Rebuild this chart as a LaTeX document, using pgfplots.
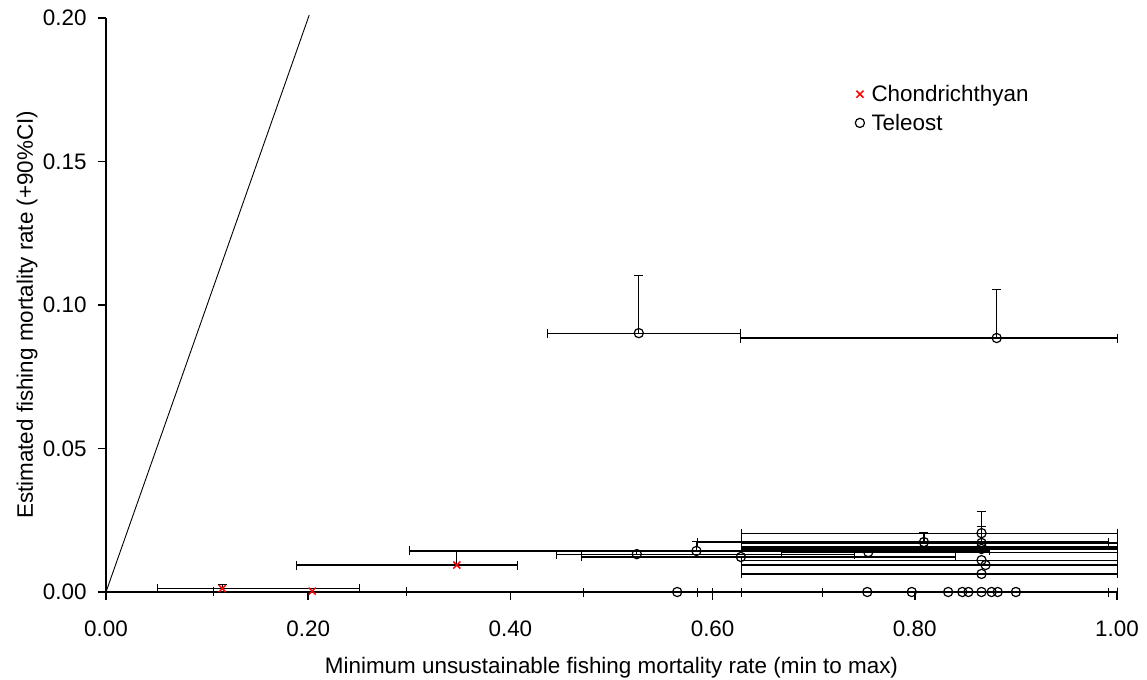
\documentclass[border=0pt]{standalone}
\usepackage{fontspec}
\setmainfont{Liberation Sans}
\usepackage{pgfplots}
\usepackage{pgfplotstable}
\pgfplotsset{compat=1.18}

% x, y, x error minus, x error plus, y error plus
\pgfplotstableread{
x      y       em     ep     yp
0.115  0.0012  0.064  0.135  0.0016
0.204  0.0003  0.098  0.093  0.0000
0.347  0.0094  0.159  0.060  0.0052
}\chondro

\pgfplotstableread{
x      y       em     ep     yp
0.527  0.0902  0.091  0.100  0.0203
0.881  0.0885  0.254  0.119  0.0171
0.525  0.0132  0.080  0.215  0.0014
0.584  0.0143  0.284  0.290  0.0035
0.809  0.0174  0.224  0.182  0.0035
0.866  0.0205  0.238  0.134  0.0075
0.866  0.0171  0.238  0.134  0.0059
}\teleostci

\pgfplotstableread{
x      y       em     ep
0.628  0.0122  0.158  0.212
0.754  0.0139  0.086  0.246
0.866  0.0157  0.238  0.134
0.866  0.0150  0.238  0.134
0.866  0.0111  0.238  0.134
0.870  0.0094  0.242  0.130
0.866  0.0063  0.238  0.134
0.565  0.0000  0.093  0.143
0.753  0.0000  0.168  0.238
0.797  0.0000  0.197  0.203
0.833  0.0000  0.205  0.167
0.847  0.0000  0.219  0.153
0.853  0.0000  0.225  0.147
0.866  0.0000  0.238  0.134
0.876  0.0000  0.248  0.124
0.882  0.0000  0.254  0.118
0.900  0.0000  0.272  0.100
}\teleost

\pgfkeys{/pgf/number format/.cd, fixed, fixed zerofill, precision=2, assume math mode=true}

\begin{document}
\begin{tikzpicture}
\begin{axis}[
  scale only axis, width=1011bp, height=574bp,
  xmin=0, xmax=1, ymin=0, ymax=0.2,
  axis x line=bottom, axis y line=left,
  axis line style={-, line width=2.2bp},
  xtick={0,0.2,0.4,0.6,0.8,1},
  ytick={0,0.05,0.1,0.15,0.2},
  tick align=outside, major tick length=8bp,
  tick style={line width=1.6bp, black},
  scaled ticks=false,
  font=\fontsize{22.5}{27}\selectfont,
  xticklabel style={yshift=-17bp},
  yticklabel style={xshift=-8bp},
  xlabel={Minimum unsustainable fishing mortality rate (min to max)},
  ylabel={Estimated fishing mortality rate (+90\%CI)},
  every axis x label/.style={at={(axis description cs:0.5,-0.132)}, anchor=center},
  every axis y label/.style={at={(axis description cs:-0.078,0.483)}, rotate=90, anchor=center},
  clip=false,
  legend style={at={(axis cs:0.738,0.178)}, anchor=north west, draw=none, fill=none,
    font=\fontsize{22.5}{27}\selectfont, row sep=7bp,
    /tikz/every odd column/.append style={column sep=5bp}},
  legend cell align=left,
  error bars/error bar style={draw=black, line width=1.2bp},
  ci/.style={forget plot, draw=none, mark=none, mark size=4.5bp},
]
% reference line: estimated rate equals unsustainable rate
\addplot[black, line width=0.9bp, forget plot] coordinates {(0,0) (0.201,0.201)};

% confidence intervals first, so that every marker sits on top
\addplot[ci, error bars/.cd, x dir=both, x explicit, y dir=plus, y explicit]
  table[x=x, y=y, x error minus=em, x error plus=ep, y error plus=yp] {\chondro};
\addplot[ci, error bars/.cd, x dir=both, x explicit, y dir=plus, y explicit]
  table[x=x, y=y, x error minus=em, x error plus=ep, y error plus=yp] {\teleostci};
\addplot[ci, error bars/.cd, x dir=both, x explicit]
  table[x=x, y=y, x error minus=em, x error plus=ep] {\teleost};

% species markers
\addplot[only marks, mark=x, red, mark size=5bp, line width=1.5bp]
  table[x=x, y=y] {\chondro};
\addlegendentry{Chondrichthyan}
\addplot[only marks, mark=o, black, mark options={fill=white}, mark size=4.6bp, line width=1.2bp]
  table[x=x, y=y] {\teleostci};
\addlegendentry{Teleost}
\addplot[only marks, mark=o, black, mark options={fill=white}, mark size=4.6bp, line width=1.2bp, forget plot]
  table[x=x, y=y] {\teleost};
\end{axis}
\pgfresetboundingbox
\path[use as bounding box] ([xshift=-106bp,yshift=-88bp]current axis.south west) rectangle ++(1147bp,680bp);
\end{tikzpicture}
\end{document}
